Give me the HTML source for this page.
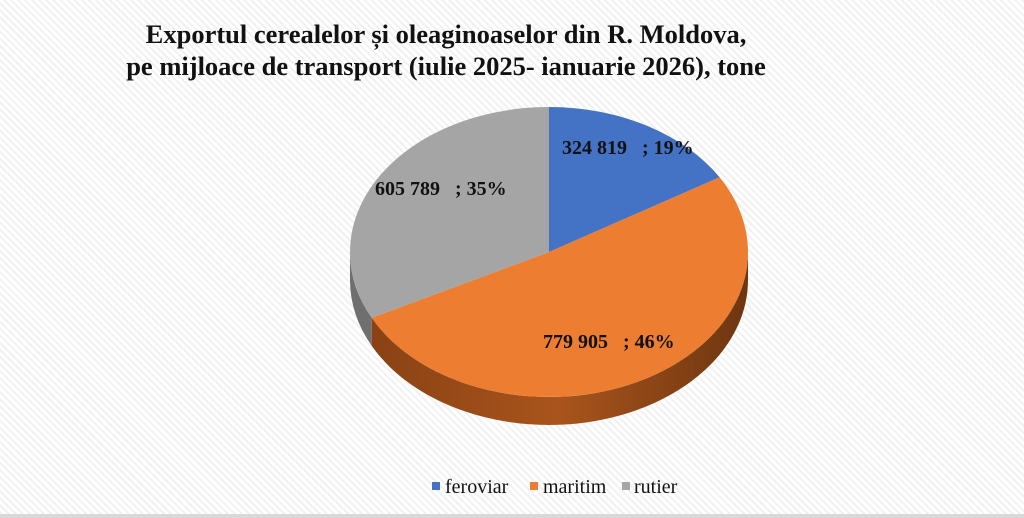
<!DOCTYPE html>
<html><head><meta charset="utf-8"><style>
html,body{margin:0;padding:0}
body{width:1024px;height:518px;overflow:hidden;position:relative;font-family:"Liberation Serif",serif;
background:repeating-linear-gradient(45deg,#ffffff 0px,#ffffff 3px,#f1f1f1 3px,#f1f1f1 5px);}
.t{position:absolute;left:0;width:892px;text-align:center;font-weight:bold;font-size:26.5px;color:#111;line-height:32px;top:18px}
.bl{position:absolute;left:0;top:514px;width:1024px;height:4px;background:#d9d9d9}
</style></head><body>
<div class="t">Exportul cerealelor și oleaginoaselor din R. Moldova,<br>pe mijloace de transport (iulie 2025- ianuarie 2026), tone</div>
<svg width="1024" height="518" style="position:absolute;left:0;top:0">
<defs>
<linearGradient id="og" x1="0" x2="1" y1="0" y2="0">
<stop offset="0" stop-color="#8a4214"/><stop offset="0.5" stop-color="#a9541c"/><stop offset="1" stop-color="#6e3610"/>
</linearGradient>
</defs>
<path d="M748,252 A199,145 0 0 1 371.7,317.8 L371.7,345.8 A199,145 0 0 0 748,280 Z" fill="url(#og)"/>
<path d="M371.7,317.8 A199,145 0 0 1 350,252 L350,280 A199,145 0 0 0 371.7,345.8 Z" fill="#6f6f6f"/>
<path d="M549,252 L549,107 A199,145 0 0 1 719.6,177.3 Z" fill="#4472c4"/>
<path d="M549,252 L719.6,177.3 A199,145 0 1 1 371.7,317.8 Z" fill="#ed7d31"/>
<path d="M549,252 L371.7,317.8 A199,145 0 0 1 549,107 Z" fill="#a5a5a5"/>
<g font-family="Liberation Serif, serif" font-weight="bold" font-size="20" fill="#111">
<text x="562" y="154">324 819&#160;&#160;&#160;; 19%</text>
<text x="375" y="195">605 789&#160;&#160;&#160;; 35%</text>
<text x="543" y="348">779 905&#160;&#160;&#160;; 46%</text>
</g>
<rect x="432" y="482" width="8" height="8" fill="#4472c4"/>
<rect x="530" y="482" width="8" height="8" fill="#ed7d31"/>
<rect x="622" y="482" width="8" height="8" fill="#a5a5a5"/>
<g font-family="Liberation Serif, serif" font-size="20" fill="#111">
<text x="445" y="493">feroviar</text>
<text x="543" y="493">maritim</text>
<text x="634" y="493">rutier</text>
</g>
</svg>
<div class="bl"></div>
</body></html>
